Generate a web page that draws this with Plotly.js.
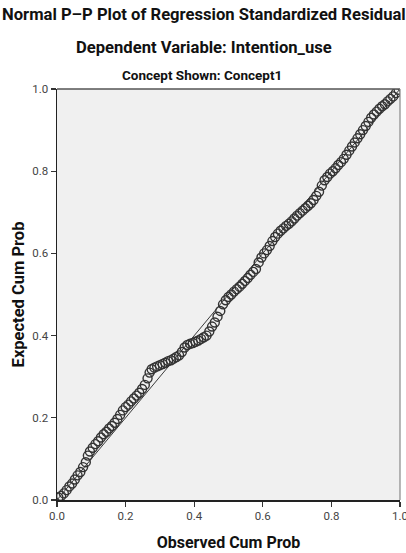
<!DOCTYPE html>
<html>
<head>
<meta charset="utf-8">
<script src="https://cdn.plot.ly/plotly-3.0.1.min.js"></script>
<style>
  html, body { margin: 0; padding: 0; background: #ffffff; }
  #chart { width: 406px; height: 553px; }
</style>
</head>
<body>
<div id="chart"></div>
<script>
// Observed cumulative probability (x) and expected cumulative probability (y)
var observedCumProb = [
  0.004,0.012,0.020,0.028,0.036,0.044,0.052,0.060,0.068,0.076,0.084,0.090,0.096,0.104,0.112,0.120,
  0.128,0.136,0.144,0.152,0.160,0.168,0.176,0.184,0.192,0.200,0.208,0.216,0.224,0.232,0.240,0.248,
  0.256,0.264,0.270,0.276,0.284,0.292,0.300,0.308,0.316,0.324,0.332,0.340,0.348,0.356,0.364,0.372,
  0.380,0.388,0.396,0.404,0.412,0.420,0.428,0.436,0.444,0.452,0.460,0.468,0.476,0.484,0.492,0.500,
  0.508,0.516,0.524,0.532,0.540,0.548,0.556,0.564,0.572,0.580,0.588,0.596,0.604,0.612,0.620,0.628,
  0.636,0.644,0.652,0.660,0.668,0.676,0.684,0.692,0.700,0.708,0.716,0.724,0.732,0.740,0.748,0.756,
  0.764,0.772,0.780,0.788,0.796,0.804,0.812,0.820,0.828,0.836,0.844,0.852,0.860,0.868,0.876,0.884,
  0.892,0.900,0.908,0.916,0.924,0.932,0.940,0.948,0.956,0.964,0.972,0.980,0.988,0.996
];
var expectedCumProb = [
  0.006,0.010,0.016,0.024,0.033,0.040,0.050,0.060,0.068,0.080,0.092,0.108,0.118,0.127,0.136,0.143,
  0.152,0.160,0.166,0.174,0.180,0.188,0.197,0.207,0.218,0.226,0.232,0.240,0.247,0.254,0.261,0.270,
  0.280,0.296,0.310,0.318,0.322,0.325,0.328,0.331,0.334,0.338,0.340,0.344,0.348,0.352,0.360,0.371,
  0.377,0.380,0.382,0.385,0.388,0.392,0.396,0.400,0.410,0.422,0.432,0.446,0.460,0.476,0.486,0.494,
  0.500,0.507,0.513,0.519,0.526,0.533,0.540,0.548,0.555,0.562,0.578,0.590,0.600,0.608,0.618,0.630,
  0.640,0.648,0.655,0.661,0.667,0.672,0.678,0.685,0.692,0.698,0.704,0.710,0.716,0.722,0.730,0.740,
  0.750,0.765,0.778,0.786,0.794,0.800,0.807,0.815,0.822,0.830,0.840,0.850,0.860,0.870,0.880,0.890,
  0.900,0.910,0.920,0.930,0.938,0.945,0.952,0.958,0.963,0.970,0.976,0.982,0.990,0.998
];
var refLineX = [0, 1];
var refLineY = [0, 1];
var tickValues = [0, 0.2, 0.4, 0.6, 0.8, 1.0];
var tickLabels = ["0.0", "0.2", "0.4", "0.6", "0.8", "1.0"];

var titleText = "Normal P\u2013P Plot of Regression Standardized Residual";
var subtitleText = "Dependent Variable: Intention_use";
var panelText = "Concept Shown: Concept1";
var xTitle = "Observed Cum Prob";
var yTitle = "Expected Cum Prob";

var FONT = "Roboto, 'Liberation Sans', sans-serif";
var TICKFONT = "Roboto, 'Liberation Sans', sans-serif";

var traces = [
  {
    x: refLineX, y: refLineY, type: "scatter", mode: "lines",
    line: { color: "#3a3a3a", width: 1 }, hoverinfo: "skip", showlegend: false
  },
  {
    x: observedCumProb, y: expectedCumProb, type: "scatter", mode: "markers",
    marker: { symbol: "circle-open", size: 9, color: "#333333", line: { width: 1.4, color: "#333333" } },
    showlegend: false
  }
];

var axisCommon = {
  range: [0, 1], tickvals: tickValues, ticktext: tickLabels,
  ticks: "outside", ticklen: 5, tickwidth: 1.3, tickcolor: "#333333",
  showline: true, linecolor: "#222222", linewidth: 1.5,
  showgrid: false, zeroline: false,
  ticklabeloverflow: "allow",
  tickfont: { family: TICKFONT, size: 11.5, color: "#444444" }
};

var layout = {
  width: 406, height: 553,
  margin: { l: 57, r: 6, t: 89, b: 53 },
  paper_bgcolor: "#ffffff",
  plot_bgcolor: "#f0f0f0",
  showlegend: false,
  xaxis: Object.assign({}, axisCommon, {
    title: { text: "<b>" + xTitle + "</b>", font: { family: FONT, size: 16, color: "#111111" }, standoff: 14 }
  }),
  yaxis: Object.assign({}, axisCommon, {
    title: { text: "<b>" + yTitle + "</b>", font: { family: FONT, size: 16.5, color: "#111111" }, standoff: 3 }
  }),
  shapes: [
    { type: "line", xref: "paper", yref: "paper", x0: 0, x1: 1, y0: 1, y1: 1, line: { color: "#555555", width: 1.5 } },
    { type: "line", xref: "paper", yref: "paper", x0: 1, x1: 1, y0: 0, y1: 1, line: { color: "#888888", width: 1.2 } }
  ],
  annotations: [
    { text: "<b>" + titleText + "</b>", xref: "paper", yref: "paper", x: 0.5, y: 1, yshift: 75,
      xanchor: "center", yanchor: "middle", showarrow: false, xshift: -25,
      font: { family: FONT, size: 16.6, color: "#111111" } },
    { text: "<b>" + subtitleText + "</b>", xref: "paper", yref: "paper", x: 0.5, y: 1, yshift: 42,
      xanchor: "center", yanchor: "middle", showarrow: false, xshift: -25,
      font: { family: FONT, size: 16.6, color: "#111111" } },
    { text: "<b>" + panelText + "</b>", xref: "paper", yref: "paper", x: 0.5, y: 1, yshift: 14,
      xanchor: "center", yanchor: "middle", showarrow: false, xshift: -27,
      font: { family: FONT, size: 13.5, color: "#111111" } }
  ]
};

Plotly.newPlot("chart", traces, layout, { displayModeBar: false, staticPlot: true });
</script>
</body>
</html>
